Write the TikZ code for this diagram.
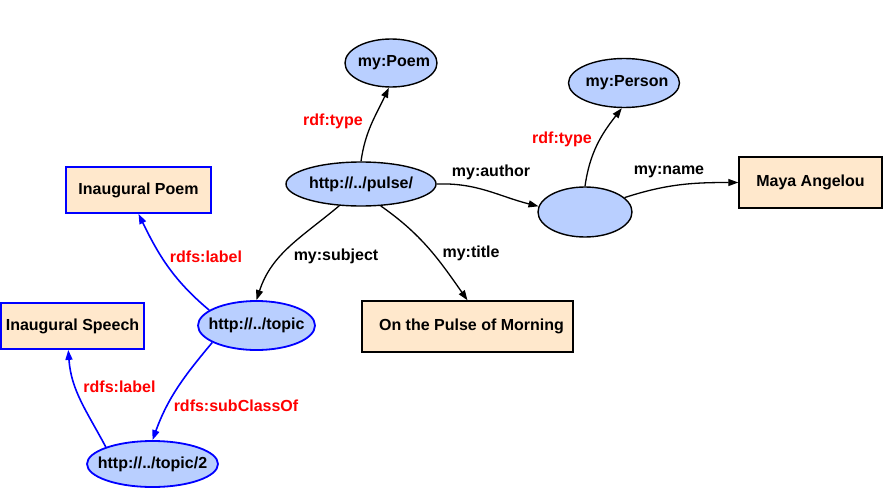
\documentclass[tikz,border=0pt]{standalone}
\usepackage{fontspec}
\setmainfont{Liberation Sans}
\usetikzlibrary{shapes.geometric,arrows.meta}
\definecolor{efill}{RGB}{185,207,255}
\definecolor{bfill}{RGB}{255,232,204}
\newcommand{\nt}[1]{\makebox[0pt][c]{#1}}
\tikzset{
  res/.style={ellipse,draw=black,line width=1.4pt,fill=efill,inner sep=0pt,font=\bfseries\fontsize{16}{18}\selectfont},
  lit/.style={rectangle,draw=black,line width=1.4pt,fill=bfill,inner sep=0pt,font=\bfseries\fontsize{16}{18}\selectfont},
  bluel/.style={draw=blue,line width=1.8pt},
  arr/.style={line width=1.3pt,-{Triangle[length=10pt,width=7pt]}},
  barr/.style={line width=1.6pt,draw=blue,-{Triangle[length=10pt,width=7pt]},blue},
  elab/.style={font=\bfseries\fontsize{16}{18}\selectfont,inner sep=0pt},
  rlab/.style={elab,text=red}
}
\begin{document}
\begin{tikzpicture}[x=1pt,y=1pt]
\useasboundingbox (0,0) rectangle (883,-487);
% nodes
\node[res,minimum width=92pt,minimum height=48pt] (poem) at (391,-63) {\nt{\hspace{6pt}my:Poem}};
\node[res,minimum width=150pt,minimum height=44pt] (pulse) at (361,-184) {\nt{http://../pulse/}};
\node[res,minimum width=111pt,minimum height=49pt] (person) at (624,-83) {\nt{\hspace{6pt}my:Person}};
\node[res,minimum width=94pt,minimum height=50pt] (blank) at (585,-212) {};
\node[lit,minimum width=143pt,minimum height=51pt] (maya) at (810.5,-182.5) {Maya Angelou};
\node[lit,bluel,minimum width=145pt,minimum height=46pt] (ipoem) at (138.5,-190) {Inaugural Poem};
\node[lit,bluel,minimum width=143pt,minimum height=46pt] (ispeech) at (72.5,-326) {Inaugural Speech};
\node[res,bluel,minimum width=117pt,minimum height=49pt] (topic) at (256.5,-325.5) {\nt{http://../topic}};
\node[res,bluel,minimum width=131pt,minimum height=46pt] (topic2) at (152.5,-464) {\nt{http://../topic/2}};
\node[lit,minimum width=211pt,minimum height=51pt] (title) at (467.5,-326.5) {\nt{\hspace{8pt}On the Pulse of Morning}};
% edges
\draw[arr] (pulse.north) to[out=82,in=-115] (poem.-95);
\draw[arr] (pulse.east) to[out=2,in=166] (blank.173);
\draw[arr] (blank.north) to[out=82,in=-128] (person.-95);
\draw[arr] (blank.20) to[out=18,in=180] (maya.west);
\draw[arr] (pulse.-135) to[out=-140,in=72] (topic.north);
\draw[arr] (pulse.-48) to[out=-35,in=125] (title.north);
\draw[barr] (topic.162) to[out=140,in=-64] (ipoem.south);
\draw[barr] (topic.-159) to[out=-130,in=70] (topic2.north);
\draw[barr] (topic2.160) to[out=118,in=-86] (ispeech.-100);
% labels
\node[rlab] (l1) at (333,-121) {rdf:type};
\node[elab] (l2) at (491,-172) {my:author};
\node[rlab] (l3) at (562,-139) {rdf:type};
\node[elab] (l4) at (669,-172) {my:name};
\node[elab] (l5) at (336,-256) {my:subject};
\node[elab] (l6) at (471,-253) {my:title};
\node[rlab] (l7) at (206,-257) {rdfs:label};
\node[rlab] (l8) at (119.5,-387) {rdfs:label};
\node[rlab] (l9) at (236,-406) {rdfs:subClassOf};
\end{tikzpicture}
\end{document}
